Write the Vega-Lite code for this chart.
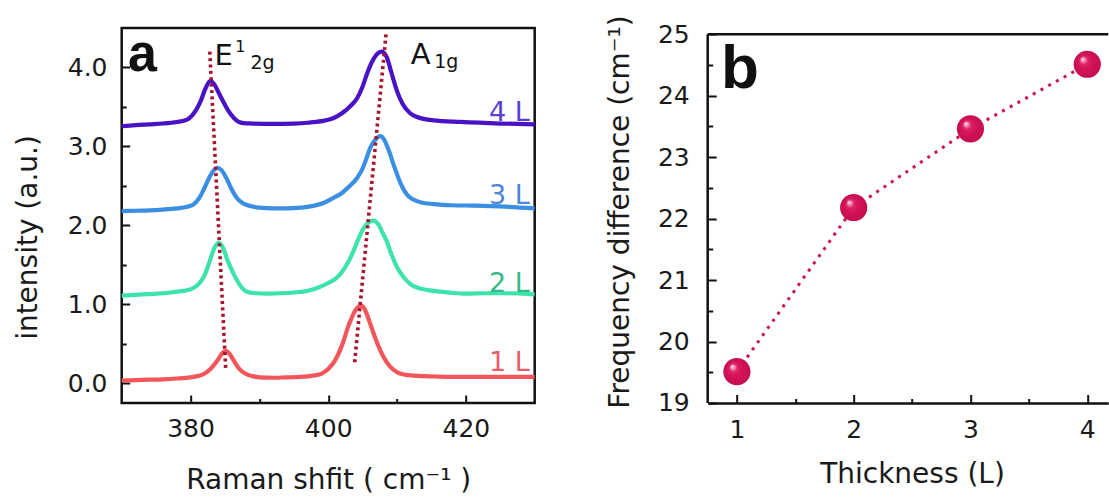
{
  "$schema": "https://vega.github.io/schema/vega-lite/v6.json",
  "padding": {"left": 12.7, "top": 14, "right": 0, "bottom": 0},
  "background": "white",
  "bounds": "flush",
  "spacing": 173,
  "config": {
    "view": {"stroke": null},
    "font": "DejaVu Sans",
    "axis": {"labelFont": "DejaVu Sans", "labelFontSize": 25, "labelColor": "#1a1a1a", "titleFont": "DejaVu Sans", "titleFontSize": 28, "titleFontWeight": "normal", "titleColor": "#1a1a1a", "tickColor": "#111111", "tickWidth": 2, "grid": false, "labelOverlap": false, "labelFlush": false, "domainColor": "#111111", "domainWidth": 2.5}
  },
  "datasets": {
    "spectra": [
      {"series":"1 L","shift":370,"intensity":0.035},{"series":"1 L","shift":372,"intensity":0.04},{"series":"1 L","shift":374,"intensity":0.045},{"series":"1 L","shift":376,"intensity":0.05},{"series":"1 L","shift":378,"intensity":0.06},{"series":"1 L","shift":380,"intensity":0.075},{"series":"1 L","shift":381,"intensity":0.09},{"series":"1 L","shift":382,"intensity":0.12},{"series":"1 L","shift":383,"intensity":0.19},{"series":"1 L","shift":384,"intensity":0.30},{"series":"1 L","shift":384.6,"intensity":0.38},{"series":"1 L","shift":385.1,"intensity":0.41},{"series":"1 L","shift":385.6,"intensity":0.38},{"series":"1 L","shift":386.2,"intensity":0.30},{"series":"1 L","shift":387,"intensity":0.19},{"series":"1 L","shift":388,"intensity":0.12},{"series":"1 L","shift":389,"intensity":0.09},{"series":"1 L","shift":390,"intensity":0.075},{"series":"1 L","shift":392,"intensity":0.07},{"series":"1 L","shift":394,"intensity":0.075},{"series":"1 L","shift":396,"intensity":0.08},{"series":"1 L","shift":398,"intensity":0.10},{"series":"1 L","shift":399,"intensity":0.12},{"series":"1 L","shift":400,"intensity":0.18},{"series":"1 L","shift":401,"intensity":0.29},{"series":"1 L","shift":402,"intensity":0.48},{"series":"1 L","shift":403,"intensity":0.74},{"series":"1 L","shift":403.8,"intensity":0.90},{"series":"1 L","shift":404.4,"intensity":0.97},{"series":"1 L","shift":404.9,"intensity":0.98},{"series":"1 L","shift":405.5,"intensity":0.90},{"series":"1 L","shift":406,"intensity":0.78},{"series":"1 L","shift":406.6,"intensity":0.63},{"series":"1 L","shift":407.3,"intensity":0.47},{"series":"1 L","shift":408,"intensity":0.34},{"series":"1 L","shift":409,"intensity":0.21},{"series":"1 L","shift":410,"intensity":0.14},{"series":"1 L","shift":411,"intensity":0.11},{"series":"1 L","shift":412,"intensity":0.10},{"series":"1 L","shift":414,"intensity":0.09},{"series":"1 L","shift":416,"intensity":0.085},{"series":"1 L","shift":420,"intensity":0.08},{"series":"1 L","shift":425,"intensity":0.08},{"series":"1 L","shift":430,"intensity":0.08},
      {"series":"2 L","shift":370,"intensity":1.11},{"series":"2 L","shift":372,"intensity":1.12},{"series":"2 L","shift":374,"intensity":1.13},{"series":"2 L","shift":376,"intensity":1.14},{"series":"2 L","shift":378,"intensity":1.16},{"series":"2 L","shift":379,"intensity":1.17},{"series":"2 L","shift":380,"intensity":1.19},{"series":"2 L","shift":381,"intensity":1.24},{"series":"2 L","shift":382,"intensity":1.36},{"series":"2 L","shift":382.8,"intensity":1.55},{"series":"2 L","shift":383.5,"intensity":1.72},{"series":"2 L","shift":384.1,"intensity":1.78},{"series":"2 L","shift":384.7,"intensity":1.72},{"series":"2 L","shift":385.4,"intensity":1.55},{"series":"2 L","shift":386.3,"intensity":1.38},{"series":"2 L","shift":387.2,"intensity":1.24},{"series":"2 L","shift":388.2,"intensity":1.16},{"series":"2 L","shift":389.5,"intensity":1.14},{"series":"2 L","shift":391,"intensity":1.135},{"series":"2 L","shift":393,"intensity":1.14},{"series":"2 L","shift":395,"intensity":1.15},{"series":"2 L","shift":397,"intensity":1.17},{"series":"2 L","shift":398.5,"intensity":1.21},{"series":"2 L","shift":400,"intensity":1.27},{"series":"2 L","shift":401,"intensity":1.32},{"series":"2 L","shift":402,"intensity":1.41},{"series":"2 L","shift":403,"intensity":1.55},{"series":"2 L","shift":403.7,"intensity":1.68},{"series":"2 L","shift":404.5,"intensity":1.85},{"series":"2 L","shift":405.2,"intensity":1.97},{"series":"2 L","shift":405.9,"intensity":2.04},{"series":"2 L","shift":406.6,"intensity":2.06},{"series":"2 L","shift":407.3,"intensity":2.01},{"series":"2 L","shift":408,"intensity":1.89},{"series":"2 L","shift":408.5,"intensity":1.80},{"series":"2 L","shift":409.2,"intensity":1.63},{"series":"2 L","shift":410,"intensity":1.47},{"series":"2 L","shift":411,"intensity":1.34},{"series":"2 L","shift":411.9,"intensity":1.26},{"series":"2 L","shift":413,"intensity":1.21},{"series":"2 L","shift":414.5,"intensity":1.18},{"series":"2 L","shift":416.3,"intensity":1.16},{"series":"2 L","shift":418,"intensity":1.145},{"series":"2 L","shift":420,"intensity":1.135},{"series":"2 L","shift":423,"intensity":1.14},{"series":"2 L","shift":426,"intensity":1.14},{"series":"2 L","shift":430,"intensity":1.125},
      {"series":"3 L","shift":370,"intensity":2.18},{"series":"3 L","shift":372,"intensity":2.185},{"series":"3 L","shift":374,"intensity":2.19},{"series":"3 L","shift":376,"intensity":2.2},{"series":"3 L","shift":378,"intensity":2.215},{"series":"3 L","shift":379.5,"intensity":2.235},{"series":"3 L","shift":380.5,"intensity":2.27},{"series":"3 L","shift":381.3,"intensity":2.35},{"series":"3 L","shift":382,"intensity":2.47},{"series":"3 L","shift":382.8,"intensity":2.62},{"series":"3 L","shift":383.4,"intensity":2.70},{"series":"3 L","shift":383.9,"intensity":2.73},{"series":"3 L","shift":384.5,"intensity":2.70},{"series":"3 L","shift":385.2,"intensity":2.60},{"series":"3 L","shift":385.9,"intensity":2.47},{"series":"3 L","shift":386.7,"intensity":2.35},{"series":"3 L","shift":387.6,"intensity":2.28},{"series":"3 L","shift":388.7,"intensity":2.245},{"series":"3 L","shift":390,"intensity":2.225},{"series":"3 L","shift":392,"intensity":2.215},{"series":"3 L","shift":394,"intensity":2.215},{"series":"3 L","shift":396,"intensity":2.225},{"series":"3 L","shift":398,"intensity":2.25},{"series":"3 L","shift":399.5,"intensity":2.29},{"series":"3 L","shift":400.8,"intensity":2.35},{"series":"3 L","shift":402,"intensity":2.41},{"series":"3 L","shift":403,"intensity":2.49},{"series":"3 L","shift":404.2,"intensity":2.60},{"series":"3 L","shift":405,"intensity":2.72},{"series":"3 L","shift":405.6,"intensity":2.86},{"series":"3 L","shift":406.1,"intensity":2.98},{"series":"3 L","shift":406.8,"intensity":3.08},{"series":"3 L","shift":407.6,"intensity":3.13},{"series":"3 L","shift":408.1,"intensity":3.09},{"series":"3 L","shift":408.8,"intensity":2.95},{"series":"3 L","shift":409.5,"intensity":2.77},{"series":"3 L","shift":410.2,"intensity":2.60},{"series":"3 L","shift":410.8,"intensity":2.48},{"series":"3 L","shift":411.45,"intensity":2.39},{"series":"3 L","shift":412.3,"intensity":2.33},{"series":"3 L","shift":413.5,"intensity":2.29},{"series":"3 L","shift":415.3,"intensity":2.27},{"series":"3 L","shift":418,"intensity":2.255},{"series":"3 L","shift":421,"intensity":2.25},{"series":"3 L","shift":425,"intensity":2.24},{"series":"3 L","shift":430,"intensity":2.215},
      {"series":"4 L","shift":370,"intensity":3.255},{"series":"4 L","shift":372,"intensity":3.27},{"series":"4 L","shift":374,"intensity":3.28},{"series":"4 L","shift":376,"intensity":3.29},{"series":"4 L","shift":378,"intensity":3.31},{"series":"4 L","shift":379.5,"intensity":3.34},{"series":"4 L","shift":380.3,"intensity":3.40},{"series":"4 L","shift":381,"intensity":3.49},{"series":"4 L","shift":381.5,"intensity":3.58},{"series":"4 L","shift":382.2,"intensity":3.74},{"series":"4 L","shift":382.9,"intensity":3.83},{"series":"4 L","shift":383.5,"intensity":3.78},{"series":"4 L","shift":384.2,"intensity":3.66},{"series":"4 L","shift":384.8,"intensity":3.56},{"series":"4 L","shift":385.5,"intensity":3.45},{"series":"4 L","shift":386.3,"intensity":3.36},{"series":"4 L","shift":387,"intensity":3.31},{"series":"4 L","shift":387.7,"intensity":3.295},{"series":"4 L","shift":389,"intensity":3.29},{"series":"4 L","shift":392,"intensity":3.285},{"series":"4 L","shift":395,"intensity":3.29},{"series":"4 L","shift":397,"intensity":3.30},{"series":"4 L","shift":399,"intensity":3.32},{"series":"4 L","shift":400.8,"intensity":3.36},{"series":"4 L","shift":402,"intensity":3.42},{"series":"4 L","shift":403.2,"intensity":3.51},{"series":"4 L","shift":404.2,"intensity":3.61},{"series":"4 L","shift":405,"intensity":3.76},{"series":"4 L","shift":405.6,"intensity":3.91},{"series":"4 L","shift":406.3,"intensity":4.06},{"series":"4 L","shift":407,"intensity":4.16},{"series":"4 L","shift":407.8,"intensity":4.20},{"series":"4 L","shift":408.5,"intensity":4.13},{"series":"4 L","shift":409.2,"intensity":3.93},{"series":"4 L","shift":410,"intensity":3.70},{"series":"4 L","shift":410.8,"intensity":3.54},{"series":"4 L","shift":411.9,"intensity":3.42},{"series":"4 L","shift":413,"intensity":3.37},{"series":"4 L","shift":415.3,"intensity":3.33},{"series":"4 L","shift":419.2,"intensity":3.31},{"series":"4 L","shift":425,"intensity":3.29},{"series":"4 L","shift":430,"intensity":3.28}
    ],
    "peaklines": [
      {"mode":"E","shift":382.8,"intensity":4.2,"shift2":385.1,"intensity2":0.195},
      {"mode":"A","shift":408.4,"intensity":4.42,"shift2":403.8,"intensity2":0.225}
    ],
    "curvelabels": [
      {"series":"1 L","shift":429.3,"intensity":0.16},
      {"series":"2 L","shift":429.3,"intensity":1.155},
      {"series":"3 L","shift":429.3,"intensity":2.27},
      {"series":"4 L","shift":429.3,"intensity":3.32}
    ],
    "thick": [
      {"layers":1,"diff":19.51},
      {"layers":2,"diff":22.18},
      {"layers":3,"diff":23.46},
      {"layers":4,"diff":24.51}
    ]
  },
  "hconcat": [
    {
      "width": 413,
      "height": 375,
      "view": {"stroke": "#111111", "strokeWidth": 2.5},
      "encoding": {
        "x": {"field": "shift", "type": "quantitative", "scale": {"domain": [370, 430], "nice": false, "zero": false},
          "axis": {"title": "Raman shfit ( cm⁻¹ )", "values": [380, 390, 400, 410, 420], "labelExpr": "datum.value % 20 === 0 ? format(datum.value, 'd') : ''", "tickSize": {"condition": {"test": "datum.value % 20 === 0", "value": -8}, "value": -4.5}, "labelPadding": 22, "domain": false, "titleY": 86, "titleBaseline": "alphabetic"}},
        "y": {"field": "intensity", "type": "quantitative", "scale": {"domain": [-0.25, 4.5], "nice": false, "zero": false},
          "axis": {"title": "intensity (a.u.)", "values": [0, 0.5, 1, 1.5, 2, 2.5, 3, 3.5, 4], "labelExpr": "datum.value % 1 === 0 ? format(datum.value, '.1f') : ''", "tickSize": {"condition": {"test": "datum.value % 1 === 0", "value": -8}, "value": -4.5}, "labelPadding": 22.7, "domain": false, "titleAngle": -90, "titleX": -85, "titleY": 209, "titleBaseline": "alphabetic", "titleAlign": "center"}}
      },
      "layer": [
        {"data": {"name": "spectra"}, "mark": {"type": "line", "strokeWidth": 4.2, "interpolate": "monotone"},
         "encoding": {"color": {"field": "series", "type": "nominal", "scale": {"domain": ["1 L", "2 L", "3 L", "4 L"], "range": ["#f2555a", "#3de3a8", "#3b8fe3", "#4a12c6"]}, "legend": null}}},
        {"data": {"name": "peaklines"}, "mark": {"type": "rule", "color": "#a8132c", "strokeWidth": 3.6, "strokeDash": [3, 3.4]},
         "encoding": {"x2": {"field": "shift2"}, "y2": {"field": "intensity2"}}},
        {"data": {"name": "curvelabels"}, "mark": {"type": "text", "align": "right", "baseline": "alphabetic", "fontSize": 27, "font": "DejaVu Sans"},
         "encoding": {"text": {"field": "series"}, "color": {"field": "series", "type": "nominal", "scale": {"domain": ["1 L", "2 L", "3 L", "4 L"], "range": ["#e2606c", "#36b98a", "#4d86d6", "#5b3fd2"]}, "legend": null}}},
        {"data": {"values": [{"shift": 370.9, "intensity": 3.95, "txt": "a"}]}, "mark": {"type": "text", "align": "left", "baseline": "alphabetic", "fontSize": 52, "font": "Liberation Sans", "fontWeight": "bold", "color": "#111111"},
         "encoding": {"text": {"field": "txt"}}},
        {"data": {"values": [{"shift": 383.5, "intensity": 4.03, "txt": "E"}, {"shift": 412.0, "intensity": 4.05, "txt": "A"}]}, "mark": {"type": "text", "align": "left", "baseline": "alphabetic", "fontSize": 29, "font": "DejaVu Sans", "color": "#111111"},
         "encoding": {"text": {"field": "txt"}}},
        {"data": {"values": [{"shift": 386.5, "intensity": 4.2, "txt": "1"}]}, "mark": {"type": "text", "align": "left", "baseline": "alphabetic", "fontSize": 16, "font": "DejaVu Sans", "color": "#111111"},
         "encoding": {"text": {"field": "txt"}}},
        {"data": {"values": [{"shift": 388.7, "intensity": 3.98, "txt": "2g"}, {"shift": 415.4, "intensity": 3.99, "txt": "1g"}]}, "mark": {"type": "text", "align": "left", "baseline": "alphabetic", "fontSize": 19, "font": "DejaVu Sans", "color": "#111111"},
         "encoding": {"text": {"field": "txt"}}}
      ],
      "resolve": {"scale": {"color": "independent"}}
    },
    {
      "width": 400.6,
      "height": 375,
      "encoding": {
        "x": {"field": "layers", "type": "quantitative", "scale": {"domain": [0.75, 4.18], "nice": false, "zero": false},
          "axis": {"title": "Thickness (L)", "values": [1, 1.5, 2, 2.5, 3, 3.5, 4], "labelExpr": "datum.value % 1 === 0 ? format(datum.value, 'd') : ''", "tickSize": {"condition": {"test": "datum.value % 1 === 0", "value": -8.5}, "value": -4.5}, "labelPadding": 23, "domain": true, "titleX": 204.3, "titleY": 80, "titleBaseline": "alphabetic", "titleAlign": "center"}},
        "y": {"field": "diff", "type": "quantitative", "scale": {"domain": [19, 25.1], "nice": false, "zero": false},
          "axis": {"title": "Frequency difference (cm⁻¹)", "values": [19, 19.5, 20, 20.5, 21, 21.5, 22, 22.5, 23, 23.5, 24, 24.5, 25], "labelExpr": "datum.value % 1 === 0 ? format(datum.value, 'd') : ''", "tickSize": {"condition": {"test": "datum.value % 1 === 0", "value": -8.5}, "value": -5}, "labelPadding": 27, "domain": false, "titleAngle": -90, "titleX": -79, "titleY": 183.5, "titleBaseline": "alphabetic", "titleAlign": "center"}}
      },
      "layer": [
        {"data": {"name": "thick"}, "mark": {"type": "line", "color": "#cc1155", "strokeWidth": 3, "strokeDash": [3, 5.8]}},
        {"data": {"name": "thick"}, "mark": {"type": "circle", "size": 740, "opacity": 1, "strokeWidth": 0,
          "fill": {"gradient": "radial", "x1": 0.32, "y1": 0.3, "r1": 0, "x2": 0.5, "y2": 0.5, "r2": 0.5,
            "stops": [{"offset": 0, "color": "#fbe3ee"}, {"offset": 0.12, "color": "#f2a0c2"}, {"offset": 0.3, "color": "#db2468"}, {"offset": 0.55, "color": "#d4125a"}, {"offset": 1, "color": "#c40e50"}]}}},
        {"data": {"values": [{"layers": 0.75, "layers2": 4.18, "diff": 25, "diff2": 25}, {"layers": 0.75, "layers2": 0.75, "diff": 19, "diff2": 25}]}, "mark": {"type": "rule", "color": "#111111", "strokeWidth": 2.5},
         "encoding": {"x2": {"field": "layers2"}, "y2": {"field": "diff2"}}},
        {"data": {"values": [{"layers": 0.865, "diff": 24.13, "txt": "b"}]}, "mark": {"type": "text", "align": "left", "baseline": "alphabetic", "fontSize": 62, "font": "Liberation Sans", "fontWeight": "bold", "color": "#111111"},
         "encoding": {"text": {"field": "txt"}}}
      ]
    }
  ]
}
